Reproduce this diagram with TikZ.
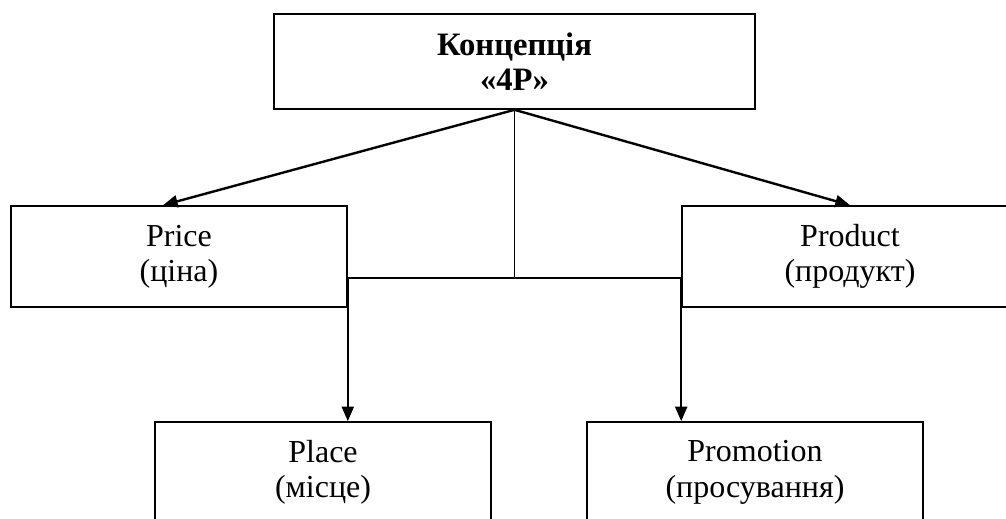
\documentclass[tikz,border=0pt]{standalone}
\usepackage{fontspec}
\setmainfont{Liberation Serif}
\usetikzlibrary{arrows.meta,calc}
\tikzset{
  box/.style={draw, line width=1.2pt, inner sep=0pt, align=center,
    minimum width=252pt, minimum height=75.75pt,
    font=\fontsize{24}{26.5}\selectfont},
  topbox/.style={box, minimum width=360.75pt, minimum height=71.25pt,
    font=\fontsize{24.5}{26.5}\selectfont\bfseries},
  arr/.style={line width=1.8pt, -{Triangle[length=11pt,width=9pt]}},
  link/.style={line width=1.4pt}
}
\begin{document}
\begin{tikzpicture}[x=0.75pt,y=-0.75pt]
\useasboundingbox (0,0) rectangle (1006,518);
\node[topbox] (top) at (514.5,61.5) {Концепція\\«4P»};
\node[box] (price) at (179,256.5) {Price\\(ціна)};
\node[box] (product) at (850,256.5) {Product\\(продукт)};
\node[box] (place) at (323,472.5) {Place\\(місце)};
\node[box] (promo) at (755,472.5) {Promotion\\(просування)};
\coordinate (j) at (top.south |- 0,278);
\coordinate (jl) at (price.east |- j);
\coordinate (jr) at (product.west |- j);
\draw[arr] (top.south) -- ($(price.north)+(-16,0)$);
\draw[arr] (top.south) -- (product.north);
\draw[link] (top.south) -- (j);
\draw[link] (jl) -- (jr);
\draw[arr] (jl) -- (jl |- place.north);
\draw[arr] (jr) -- (jr |- promo.north);
\end{tikzpicture}
\end{document}
